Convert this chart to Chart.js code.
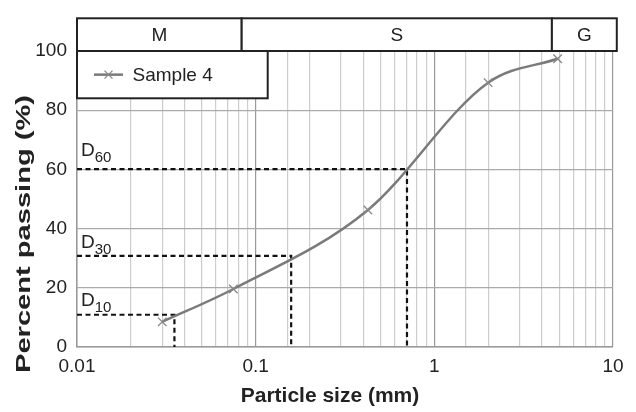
<!DOCTYPE html>
<html>
<head>
<meta charset="utf-8">
<script src="https://cdn.jsdelivr.net/npm/chart.js@4.4.1/dist/chart.umd.min.js"></script>
<style>
  html, body { margin: 0; padding: 0; background: #fff; }
</style>
</head>
<body>
<canvas id="grafico" width="636" height="412"></canvas>
<script>
// curva granulometrica - Sample 4
const tamanhos = [0.03, 0.075, 0.425, 2.0, 4.9];
const passantes = [8.5, 19.6, 46.3, 89.3, 97.4];

// linhas D10 / D30 / D60
const dNomes = ['10', '30', '60'];
const dTamanhos = [0.0351, 0.158, 0.703];
const dPassantes = [10.9, 30.8, 60.1];

// faixas M / S / G no topo
const faixas = ['M', 'S', 'G'];
const faixaLimites = [0.01, 0.0835, 4.55, 10.5];

const xRotulos = [0.01, 0.1, 1, 10];
const yRotulos = [0, 20, 40, 60, 80, 100];

const FONTE = '"Liberation Sans", Arial, Helvetica, sans-serif';
const CINZA_CURVA = '#7a7a7a';

const datasetsD = dNomes.map((nome, i) => ({
  label: 'D' + nome,
  data: [
    { x: xRotulos[0], y: dPassantes[i] },
    { x: dTamanhos[i], y: dPassantes[i] },
    { x: dTamanhos[i], y: yRotulos[0] }
  ],
  borderColor: '#111',
  borderWidth: 2.2,
  borderDash: [5, 3.5],
  pointRadius: 0,
  tension: 0,
  order: 2
}));

function ehDecada(v) {
  const l = Math.log10(v);
  return Math.abs(l - Math.round(l)) < 1e-6;
}

const decoracao = {
  id: 'decoracao',
  afterDraw(chart) {
    const ctx = chart.ctx;
    const xs = chart.scales.x;
    const ys = chart.scales.y;
    const area = chart.chartArea;
    ctx.save();

    // faixas M S G
    const topo = 18.3, base = area.top;
    ctx.lineWidth = 2;
    ctx.strokeStyle = '#222';
    ctx.fillStyle = '#fff';
    ctx.font = '19px ' + FONTE;
    ctx.textAlign = 'center';
    ctx.textBaseline = 'middle';
    for (let i = 0; i < faixas.length; i++) {
      const x0 = xs.getPixelForValue(faixaLimites[i]);
      const x1 = xs.getPixelForValue(faixaLimites[i + 1]);
      ctx.fillStyle = '#fff';
      ctx.fillRect(x0, topo, x1 - x0, base - topo);
      ctx.strokeRect(x0, topo, x1 - x0, base - topo);
      ctx.fillStyle = '#222';
      ctx.fillText(faixas[i], (x0 + x1) / 2, (topo + base) / 2 + 1);
    }

    // legenda
    const lx0 = area.left, ly0 = area.top, lx1 = 267.7, ly1 = 98.3;
    ctx.fillStyle = '#fff';
    ctx.fillRect(lx0, ly0, lx1 - lx0, ly1 - ly0);
    ctx.strokeRect(lx0, ly0, lx1 - lx0, ly1 - ly0);
    const ly = (ly0 + ly1) / 2;
    ctx.strokeStyle = CINZA_CURVA;
    ctx.lineWidth = 2.5;
    ctx.beginPath();
    ctx.moveTo(94, ly);
    ctx.lineTo(123, ly);
    ctx.stroke();
    ctx.strokeStyle = '#888';
    ctx.lineWidth = 1.3;
    ctx.beginPath();
    ctx.moveTo(104.5, ly - 4); ctx.lineTo(112.5, ly + 4);
    ctx.moveTo(104.5, ly + 4); ctx.lineTo(112.5, ly - 4);
    ctx.stroke();
    ctx.fillStyle = '#222';
    ctx.textAlign = 'left';
    ctx.fillText('Sample 4', 132.5, ly + 1);

    // rotulos D10 D30 D60
    const desloc = [8.6, 8, 13.3];
    ctx.textBaseline = 'alphabetic';
    for (let i = 0; i < dNomes.length; i++) {
      const yb = ys.getPixelForValue(dPassantes[i]) - desloc[i];
      ctx.font = '19px ' + FONTE;
      ctx.fillText('D', area.left + 4, yb);
      const w = ctx.measureText('D').width;
      ctx.font = '15px ' + FONTE;
      ctx.fillText(dNomes[i], area.left + 4 + w, yb + 6);
    }

    // titulos dos eixos
    ctx.font = 'bold 21px ' + FONTE;
    ctx.textAlign = 'center';
    ctx.textBaseline = 'middle';
    ctx.fillText('Particle size (mm)', 330, 396);
    // no original o titulo vertical fica mais comprido
    const tituloY = 'Percent passing (%)';
    const esticar = 278 / ctx.measureText(tituloY).width;
    ctx.translate(24, 234);
    ctx.rotate(-Math.PI / 2);
    ctx.scale(esticar, 1);
    ctx.fillText(tituloY, 0, 0);
    ctx.restore();
  }
};

new Chart(document.getElementById('grafico'), {
  type: 'line',
  data: {
    datasets: [
      {
        label: 'Sample 4',
        data: tamanhos.map((t, i) => ({ x: t, y: passantes[i] })),
        borderColor: CINZA_CURVA,
        borderWidth: 2.5,
        cubicInterpolationMode: 'monotone',
        pointStyle: 'crossRot',
        pointRadius: 6,
        pointBorderColor: '#888',
        pointBorderWidth: 1.3,
        order: 1
      },
      ...datasetsD
    ]
  },
  options: {
    responsive: false,
    animation: false,
    layout: { padding: { top: 51, right: 23, left: 0, bottom: 0 } },
    plugins: {
      legend: { display: false },
      tooltip: { enabled: false }
    },
    scales: {
      x: {
        type: 'logarithmic',
        min: xRotulos[0],
        max: xRotulos[xRotulos.length - 1],
        afterFit: (s) => { s.height = 65; },
        border: { color: '#999', width: 1.5 },
        grid: {
          drawTicks: false,
          lineWidth: 1.2,
          color: (c) => (c.tick && ehDecada(c.tick.value) ? '#9a9a9a' : '#cdcdcd')
        },
        ticks: {
          autoSkip: false,
          maxRotation: 0,
          padding: 8,
          color: '#222',
          font: { family: FONTE, size: 19 },
          callback: (v) => (xRotulos.some((r) => Math.abs(r - v) < 1e-9) ? String(v) : '')
        }
      },
      y: {
        min: yRotulos[0],
        max: yRotulos[yRotulos.length - 1],
        afterFit: (s) => { s.width = 77; },
        afterBuildTicks: (s) => { s.ticks = yRotulos.map((v) => ({ value: v })); },
        border: { color: '#999', width: 1.5 },
        grid: { drawTicks: false, color: '#aaa', lineWidth: 1.3 },
        ticks: {
          padding: 10,
          color: '#222',
          font: { family: FONTE, size: 19 }
        }
      }
    }
  },
  plugins: [decoracao]
});
</script>
</body>
</html>
